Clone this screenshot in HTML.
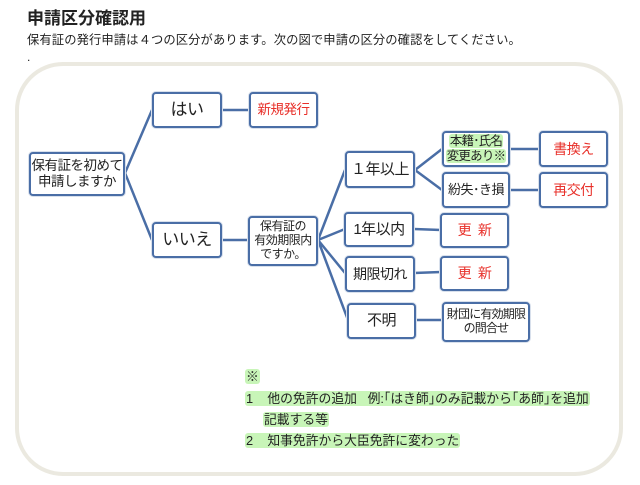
<!DOCTYPE html>
<html><head><meta charset="utf-8"><style>
body{margin:0;width:640px;height:485px;background:#fff;position:relative;overflow:hidden;font-family:"Liberation Sans","Noto Sans CJK JP",sans-serif;color:#222}
.t{position:absolute;white-space:nowrap}
.b{position:absolute;box-sizing:border-box;border:2.5px solid #4a6ea6;border-radius:4px;background:#fff;display:flex;align-items:center;justify-content:center;text-align:center;line-height:1.2;box-shadow:0 0 0 1px #d8e0ec;white-space:nowrap;letter-spacing:-0.5px}
.r{color:#e8302a}
.g{background:#c8f5b8;border-radius:3px;padding:0 1px}
</style></head><body>
<div class="t" style="left:27px;top:4px;font-size:17px;font-weight:bold">申請区分確認用</div>
<div class="t" style="left:27px;top:30px;font-size:12.3px;letter-spacing:0.1px">保有証の発行申請は４つの区分があります。次の図で申請の区分の確認をしてください。</div>
<div class="t" style="left:27px;top:50px;font-size:12px">.</div>
<div style="position:absolute;left:15px;top:62px;width:600px;height:406px;border:4px solid #ebe9e0;border-radius:48px"></div>
<svg style="position:absolute;left:0;top:0" width="640" height="485"><g stroke="#4a6ea6" stroke-width="2.5" fill="none">
<path d="M125 173L152 110M125 173L152 240M222 110H249M222 240H249M318 240L345 170M318 240L345 229M318 240L345 273M318 240L348 320M415 170L442 149M415 170L442 190M510 149H539M510 190H539M414 229L441 230M414 273L441 272M416 320H443"/></g></svg>
<div class="b" style="left:29px;top:152px;width:96px;height:44px;font-size:13.5px">保有証を初めて<br>申請しますか</div>
<div class="b" style="left:152px;top:92px;width:70px;height:36px;font-size:17px">はい</div>
<div class="b r" style="left:249px;top:92px;width:69px;height:36px;font-size:13.5px">新規発行</div>
<div class="b" style="left:152px;top:222px;width:70px;height:36px;font-size:17px">いいえ</div>
<div class="b" style="left:248px;top:216px;width:70px;height:50px;font-size:12px;line-height:1.15">保有証の<br>有効期限内<br>ですか。</div>
<div class="b" style="left:345px;top:151px;width:70px;height:37px;font-size:15px">１年以上</div>
<div class="b" style="left:442px;top:131px;width:68px;height:36px;font-size:12.5px;line-height:1.2;letter-spacing:-0.8px"><div><span class="g">本籍･氏名</span><br><span class="g">変更あり※</span></div></div>
<div class="b" style="left:442px;top:172px;width:68px;height:36px;font-size:13px">紛失･き損</div>
<div class="b r" style="left:539px;top:131px;width:69px;height:36px;font-size:14px">書換え</div>
<div class="b r" style="left:539px;top:172px;width:69px;height:36px;font-size:14px">再交付</div>
<div class="b" style="left:344px;top:212px;width:70px;height:35px;font-size:15px">1年以内</div>
<div class="b r" style="left:440px;top:213px;width:69px;height:35px;font-size:14px">更&nbsp;&nbsp;新</div>
<div class="b" style="left:345px;top:256px;width:70px;height:36px;font-size:14px">期限切れ</div>
<div class="b r" style="left:440px;top:256px;width:69px;height:35px;font-size:14px">更&nbsp;&nbsp;新</div>
<div class="b" style="left:347px;top:303px;width:69px;height:36px;font-size:15px">不明</div>
<div class="b" style="left:442px;top:302px;width:88px;height:40px;font-size:12px;line-height:1.15;letter-spacing:-0.8px">財団に有効期限<br>の問合せ</div>
<div class="t" style="left:245px;top:366px;font-size:12.8px"><span class="g">※</span></div>
<div class="t" style="left:245px;top:388px;font-size:12.8px;letter-spacing:0px"><span class="g">1&nbsp;&nbsp;&nbsp;&nbsp;他の免許の追加&nbsp;&nbsp;&nbsp;例:｢はき師｣のみ記載から｢あ師｣を追加</span></div>
<div class="t" style="left:263px;top:409px;font-size:12.8px"><span class="g">記載する等</span></div>
<div class="t" style="left:245px;top:430px;font-size:12.8px"><span class="g">2&nbsp;&nbsp;&nbsp;&nbsp;知事免許から大臣免許に変わった</span></div>
</body></html>
